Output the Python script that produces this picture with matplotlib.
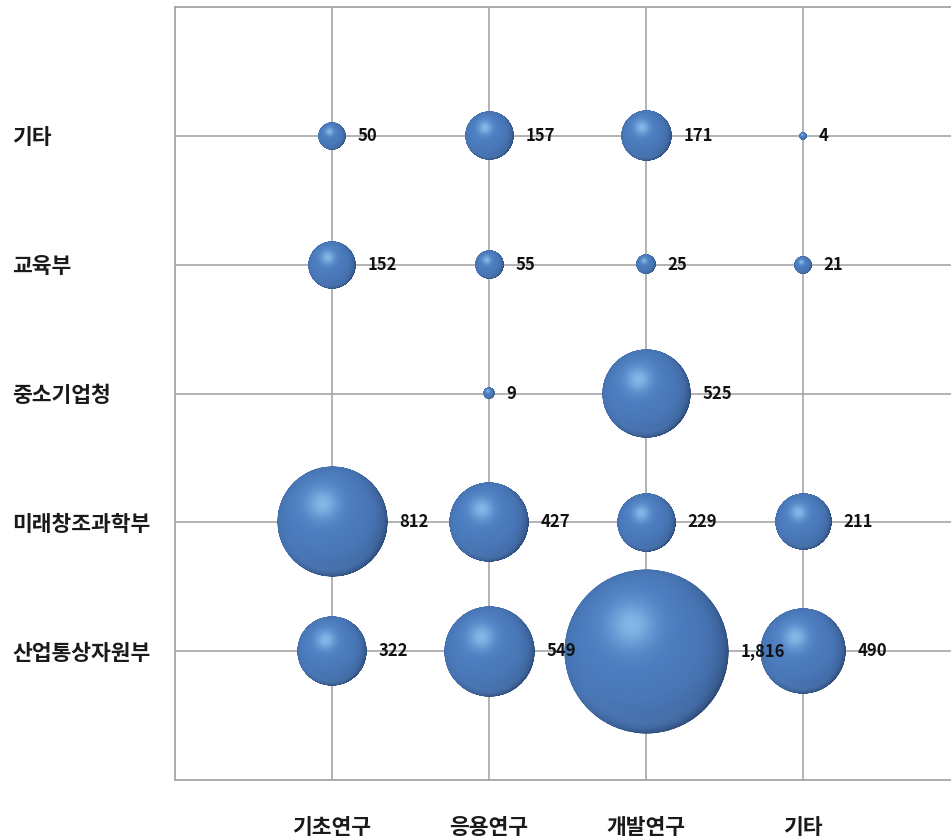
import numpy as np
import matplotlib
matplotlib.use("Agg")
import matplotlib.pyplot as plt
from matplotlib.offsetbox import OffsetImage, AnnotationBbox

plt.rcParams['font.family'] = ['Noto Sans CJK KR', 'DejaVu Sans']

# ---- data ----
x_categories = ['기초연구', '응용연구', '개발연구', '기타']
y_categories = ['산업통상자원부', '미래창조과학부', '중소기업청', '교육부', '기타']  # bottom -> top
values_산업통상자원부 = [322, 549, 1816, 490]
values_미래창조과학부 = [812, 427, 229, 211]
values_중소기업청 = [np.nan, 9, 525, np.nan]
values_교육부 = [152, 55, 25, 21]
values_기타 = [50, 157, 171, 4]
rows = [values_산업통상자원부, values_미래창조과학부, values_중소기업청, values_교육부, values_기타]

DPI = 100
W, H = 951, 840
fig = plt.figure(figsize=(W / DPI, H / DPI), dpi=DPI)
ax = fig.add_axes([175 / W, (H - 780) / H, 785 / W, 773 / H])
ax.set_xlim(0, len(x_categories) + 1)
ax.set_ylim(0, len(y_categories) + 1)

grid_c = '#a6a6a6'
for s in ['left', 'bottom', 'top', 'right']:
    ax.spines[s].set_color(grid_c)
    ax.spines[s].set_linewidth(1.3)
ax.set_xticks(np.arange(1, len(x_categories) + 1))
ax.set_yticks(np.arange(1, len(y_categories) + 1))
ax.grid(True, color=grid_c, linewidth=1.2)
ax.set_axisbelow(True)
ax.tick_params(length=0)
ax.set_xticklabels(x_categories, fontsize=15.5, fontweight='bold', color='#1a1a1a')
ax.set_yticklabels(y_categories, fontsize=15.5, fontweight='bold', color='#1a1a1a')
ax.tick_params(axis='x', pad=27)
ax.tick_params(axis='y', pad=(175 - 12) * 72 / DPI)
for lbl in ax.get_yticklabels():
    lbl.set_horizontalalignment('left')


def sphere_image(n=400):
    lin = np.linspace(-1, 1, n)
    u, v = np.meshgrid(lin, -lin)
    r2 = u ** 2 + v ** 2
    rr = np.sqrt(r2)
    z = np.sqrt(np.clip(1 - r2, 0, 1))
    mid = np.array([0.30, 0.49, 0.75])
    dark = np.array([0.13, 0.22, 0.37])
    hi = np.array([0.60, 0.82, 0.97])
    col = np.ones(u.shape + (3,)) * mid
    # gentle overall gradient (lighter upper-left)
    g = np.clip(0.5 + 0.25 * (-u * 0.6 + v * 0.8), 0, 1)
    col = col * (0.9 + 0.2 * g[..., None])
    # edge darkening, strongest to the lower right
    dirw = np.clip((0.8 * u - 0.6 * v + 0.35) / 1.35, 0, 1)
    e = (1 - z) ** 1.6 * (0.30 + 0.70 * dirw)
    col = col * (1 - 0.95 * e[..., None]) + dark * 0.95 * e[..., None]
    # soft highlight upper-left
    hl = np.exp(-(((u + 0.18) ** 2 + (v - 0.32) ** 2) / (2 * 0.2 ** 2)))
    col = col * (1 - 0.7 * hl[..., None]) + hi * 0.7 * hl[..., None]
    # bottom reflected light
    rim = np.exp(-((rr - 0.86) / 0.09) ** 2) * np.clip(-v - 0.3, 0, 1) * 0.5
    col = col * (1 - rim[..., None]) + np.array([0.36, 0.53, 0.76]) * rim[..., None]
    alpha = np.clip((1.0 - rr) * n / 2.0, 0, 1)
    return np.dstack([np.clip(col, 0, 1), alpha])


SPH = sphere_image(400)
K = 3.87  # pixel diameter per sqrt(value)

xs, ys, vs = [], [], []
for j, row in enumerate(rows):
    for i, val in enumerate(row):
        if np.isnan(val):
            continue
        xs.append(i + 1); ys.append(j + 1); vs.append(val)
xs = np.array(xs); ys = np.array(ys); vs = np.array(vs)
d_px = K * np.sqrt(vs)
ax.scatter(xs, ys, s=(d_px * 0.97 * 72 / DPI) ** 2, color='#2f4f80', linewidths=0, zorder=2)

for x, y, v, d in zip(xs, ys, vs, d_px):
    oi = OffsetImage(SPH, zoom=d / SPH.shape[0] * 72 / DPI, interpolation='antialiased')
    ab = AnnotationBbox(oi, (x, y), frameon=False, pad=0, box_alignment=(0.5, 0.5), zorder=3)
    ax.add_artist(ab)
    ax.annotate(f'{int(v):,}', (x, y), xytext=((d / 2 + 12) * 72 / DPI, 0), textcoords='offset points',
                ha='left', va='center', fontsize=12, fontweight='bold', color='#111111', zorder=4)

fig.savefig('out.png', dpi=DPI)
